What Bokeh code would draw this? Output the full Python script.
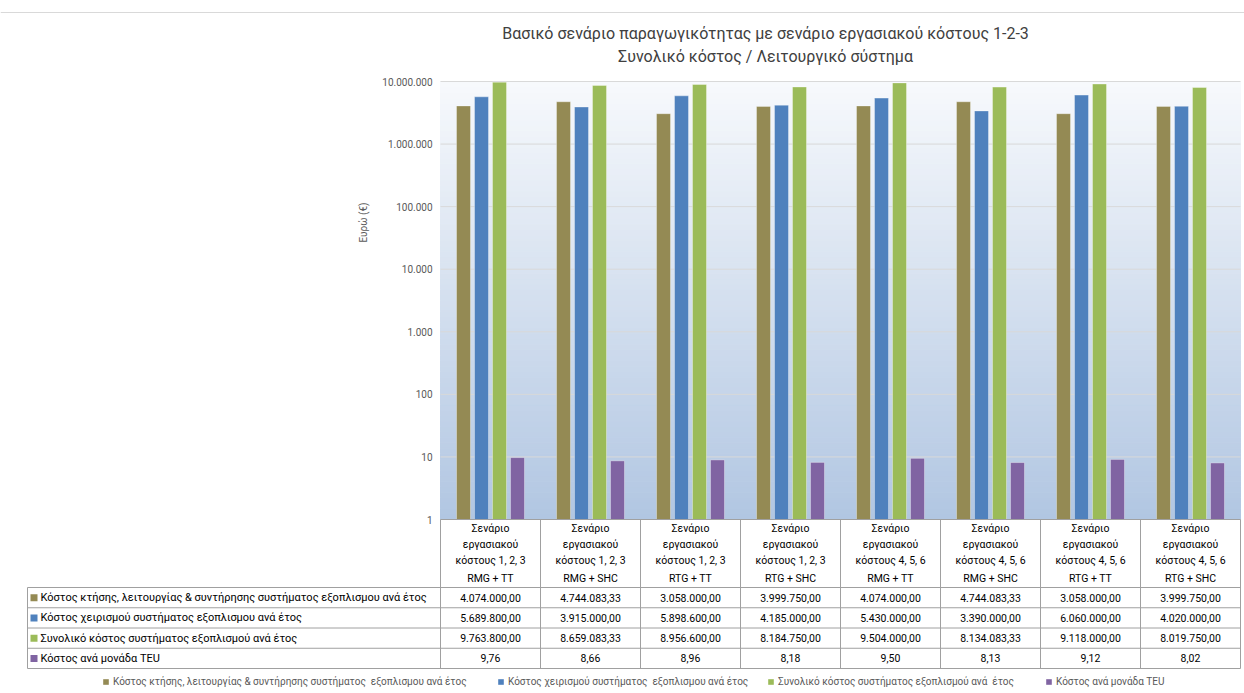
import numpy as np
from bokeh.plotting import figure
from bokeh.models import Range1d, Legend, LegendItem, ColumnDataSource, LogScale
from bokeh.embed import file_html
from bokeh.resources import INLINE
from bokeh.core.properties import value
from bokeh.transform import dodge

# ---------------- data ----------------
title_lines = ["Βασικό σενάριο παραγωγικότητας με σενάριο εργασιακού κόστους 1-2-3",
               "Συνολικό κόστος / Λειτουργικό σύστημα"]
scenarios = ["Σενάριο\nεργασιακού\nκόστους 1, 2, 3"] * 4 + ["Σενάριο\nεργασιακού\nκόστους 4, 5, 6"] * 4
systems = ["RMG + TT", "RMG + SHC", "RTG + TT", "RTG + SHC",
           "RMG + TT", "RMG + SHC", "RTG + TT", "RTG + SHC"]
series_names = ["Κόστος κτήσης, λειτουργίας & συντήρησης συστήματος  εξοπλισμου ανά έτος",
                "Κόστος χειρισμού συστήματος  εξοπλισμου ανά έτος",
                "Συνολικό κόστος συστήματος εξοπλισμού ανά  έτος",
                "Κόστος ανά μονάδα TEU"]
acquisition = [4074000.00, 4744083.33, 3058000.00, 3999750.00, 4074000.00, 4744083.33, 3058000.00, 3999750.00]
handling = [5689800.00, 3915000.00, 5898600.00, 4185000.00, 5430000.00, 3390000.00, 6060000.00, 4020000.00]
total = [9763800.00, 8659083.33, 8956600.00, 8184750.00, 9504000.00, 8134083.33, 9118000.00, 8019750.00]
per_teu = [9.76, 8.66, 8.96, 8.18, 9.50, 8.13, 9.12, 8.02]
y_ticks = [1, 10, 100, 1000, 10000, 100000, 1000000, 10000000]
y_label = "Ευρώ (€)"

colors = ["#948A54", "#4F81BD", "#9BBB59", "#8064A2"]

# ---------------- layout constants (pixels) ----------------
FONT = "Roboto"
W, H = 1244, 693
PLOT_L, PLOT_R = 440, 1240          # chart plot area, horizontal
PLOT_T, PLOT_B = 81, 519            # chart plot area, vertical (10^7 .. 1)
CAT_PX = (PLOT_R - PLOT_L) / len(systems)
TABLE_L = 27
HEADER_LINES_Y = [528, 544, 560, 578]
ROW_TOP, ROW_H = 587, 20.25
GRID_COL = "#d9d9d9"
LINE_COL = "#a0a0a0"

n_cat = len(systems)
series = [acquisition, handling, total, per_teu]
X0 = -0.5 - PLOT_L / CAT_PX


def px2x(px):
    return X0 + px / CAT_PX


def gr(v, dec=2):
    s = f"{v:,.{dec}f}"
    return s.replace(",", "X").replace(".", ",").replace("X", ".")


dec_px = (PLOT_B - PLOT_T) / 7.0
log_lo = 10 ** (-(H - PLOT_B) / dec_px)
log_hi = 10 ** (7 + PLOT_T / dec_px)

p = figure(width=W, height=H, x_range=Range1d(X0, px2x(W)), y_range=Range1d(H, 0),
           toolbar_location=None, output_backend="svg", min_border=0,
           x_axis_location=None, y_axis_location=None)
p.extra_y_ranges = {"log": Range1d(log_lo, log_hi)}
p.extra_y_scales = {"log": LogScale()}
p.grid.visible = False
p.outline_line_color = None
p.background_fill_color = "white"
p.border_fill_color = "white"

# top frame line and title
p.segment(x0=[px2x(0)], y0=[12], x1=[px2x(W)], y1=[12], line_color=GRID_COL, line_width=1)
p.text(x=[px2x(765)] * 2, y=[33, 56], text=title_lines, text_align="center", text_baseline="middle",
       text_font=value(FONT), text_font_size="16px", text_color="#404040")

# gradient plot-area background (decoration)
nb = 80
edges = np.logspace(0, 7, nb + 1)
top_rgb = np.array([0xf7, 0xf9, 0xfc])
bot_rgb = np.array([0xb1, 0xc6, 0xe2])
tt = (np.arange(nb) + 0.5) / nb
band_cols = ["#%02x%02x%02x" % tuple((bot_rgb + (top_rgb - bot_rgb) * t).round().astype(int)) for t in tt]
p.quad(left=-0.5, right=n_cat - 0.5, bottom=edges[:-1], top=edges[1:], y_range_name="log",
       fill_color=band_cols, line_color=band_cols, line_width=1)

# gridlines + y tick labels (log scale)
p.segment(x0=[-0.5] * len(y_ticks), x1=[n_cat - 0.5] * len(y_ticks), y0=y_ticks, y1=y_ticks,
          y_range_name="log", line_color=GRID_COL, line_width=1)
p.text(x=[px2x(PLOT_L - 8)] * len(y_ticks), y=y_ticks, text=[f"{t:,}".replace(",", ".") for t in y_ticks],
       y_range_name="log", text_align="right", text_baseline="middle",
       text_font=value(FONT), text_font_size="10px", text_color="#595959")
p.text(x=[px2x(363)], y=[222], text=[y_label], angle=np.pi / 2, text_align="center", text_baseline="middle",
       text_font=value(FONT), text_font_size="10px", text_color="#595959")

# bars
src = ColumnDataSource(dict(x=list(range(n_cat)), s0=acquisition, s1=handling, s2=total, s3=per_teu))
offsets = [-0.27, -0.09, 0.09, 0.27]
for k, (off, col) in enumerate(zip(offsets, colors)):
    p.vbar(x=dodge("x", off), top=f"s{k}", bottom=1, width=0.14, source=src, y_range_name="log",
           fill_color=col, line_color="white", line_alpha=0.35, line_width=1)

# data table
row_edges = [ROW_TOP + ROW_H * r for r in range(len(series) + 1)]
table_bottom = row_edges[-1]
xl = px2x(TABLE_L)
p.segment(x0=[-0.5], x1=[n_cat - 0.5], y0=[PLOT_B], y1=[PLOT_B], line_color=LINE_COL, line_width=1)
p.segment(x0=[xl] * len(row_edges), x1=[n_cat - 0.5] * len(row_edges), y0=row_edges, y1=row_edges,
          line_color=LINE_COL, line_width=1)
vx = [i - 0.5 for i in range(n_cat + 1)]
p.segment(x0=vx, x1=vx, y0=[PLOT_B] * len(vx), y1=[table_bottom] * len(vx), line_color=LINE_COL, line_width=1)
p.segment(x0=[xl], x1=[xl], y0=[ROW_TOP], y1=[table_bottom], line_color=LINE_COL, line_width=1)

# header labels
hx, hy, ht = [], [], []
for i in range(n_cat):
    lines = scenarios[i].split("\n") + [systems[i]]
    for j, ln in enumerate(lines):
        hx.append(i)
        hy.append(HEADER_LINES_Y[j])
        ht.append(ln)
p.text(x=hx, y=hy, text=ht, text_align="center", text_baseline="middle",
       text_font=value(FONT), text_font_size="10.5px", text_color="#000000")

legend_sq_x = [102, 497, 767, 1045]
for r, (name, vals, col) in enumerate(zip(series_names, series, colors)):
    yc = ROW_TOP + ROW_H * (r + 0.5)
    p.rect(x=[px2x(TABLE_L + 6.5)], y=[yc], width=7, height=7, width_units="screen", height_units="screen",
           fill_color=col, line_color=None)
    p.text(x=[px2x(TABLE_L + 13)], y=[yc], text=[name], text_align="left", text_baseline="middle",
           text_font=value(FONT), text_font_size="11px", text_color="#000000")
    p.text(x=list(range(n_cat)), y=[yc] * n_cat, text=[gr(v) for v in vals], text_align="center",
           text_baseline="middle", text_font=value(FONT), text_font_size="10.5px", text_color="#000000")
    # invisible proxy renderer for the legend swatch
    sw = p.rect(x=[px2x(TABLE_L + 6.5)], y=[yc], width=7, height=7, width_units="screen",
                height_units="screen", fill_color=col, line_color=None, visible=False)
    leg = Legend(items=[LegendItem(label=name, renderers=[sw])], location=(legend_sq_x[r], 6),
                 orientation="horizontal", padding=0, margin=0, glyph_width=7, glyph_height=7,
                 label_standoff=4, label_height=12, label_text_font=FONT, label_text_font_size="10px",
                 label_text_color="#595959", border_line_alpha=0, background_fill_alpha=0)
    p.add_layout(leg)

open("out.html", "w").write(file_html(p, INLINE))
